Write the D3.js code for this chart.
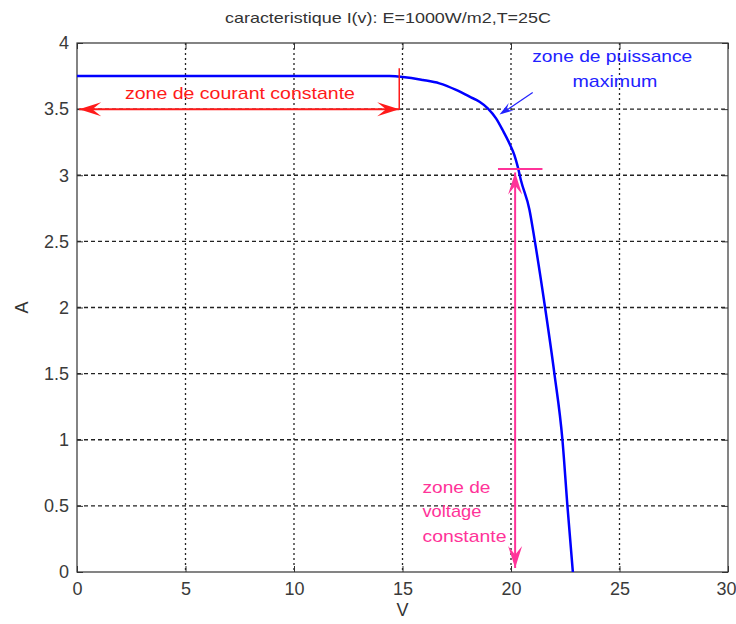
<!DOCTYPE html>
<html><head><meta charset="utf-8">
<script src="https://cdn.jsdelivr.net/npm/d3@7"></script>
<style>body{margin:0;background:#fff}svg{display:block}text{font-family:"Liberation Sans",Arial,sans-serif}</style>
</head><body>
<svg id="c" width="736" height="624"></svg>
<script>
const voltage = [0, 5, 10, 14.4, 15.94, 16.7, 17.47, 18.09, 18.55, 18.93, 19.31, 19.62, 19.93, 20.16, 20.31, 20.46, 20.85, 21.1, 21.57, 22.0, 22.37, 22.6, 22.85];
const current = [3.75, 3.75, 3.75, 3.75, 3.72, 3.695, 3.645, 3.594, 3.556, 3.506, 3.43, 3.34, 3.24, 3.15, 3.065, 2.96, 2.74, 2.5, 2.0, 1.5, 1.0, 0.5, 0.0];
const xTicks = [0, 5, 10, 15, 20, 25, 30];
const yTicks = [0, 0.5, 1, 1.5, 2, 2.5, 3, 3.5, 4];
const titleText = "caracteristique I(v): E=1000W/m2,T=25C";

const svg = d3.select("#c");
const L = 77, R = 728, T = 43, B = 572;
const x = d3.scaleLinear().domain([0, 30]).range([L, R]);
const y = d3.scaleLinear().domain([0, 4]).range([B, T]);

// grid
const g = svg.append("g");
g.selectAll(".gx").data(xTicks.slice(1, -1)).join("line")
  .attr("x1", d => x(d)).attr("x2", d => x(d)).attr("y1", T).attr("y2", B)
  .attr("stroke", "#222").attr("stroke-width", 1.3).attr("stroke-dasharray", "2,3");
g.selectAll(".gy").data(yTicks.slice(1, -1)).join("line")
  .attr("y1", d => y(d)).attr("y2", d => y(d)).attr("x1", L).attr("x2", R)
  .attr("stroke", "#222").attr("stroke-width", 1.3).attr("stroke-dasharray", "4,3");

// axes
const ax = d3.axisBottom(x).tickValues(xTicks).tickSize(-6).tickPadding(10).tickFormat(d3.format("d"));
const ay = d3.axisLeft(y).tickValues(yTicks).tickSize(-6).tickPadding(8).tickFormat(d => d);
const axT = d3.axisTop(x).tickValues(xTicks).tickSize(-6).tickFormat("");
const ayR = d3.axisRight(y).tickValues(yTicks).tickSize(-6).tickFormat("");
function style(sel){
  sel.select(".domain").remove();
  sel.selectAll("line").attr("stroke", "#333").attr("stroke-width", 1);
  sel.selectAll("text").attr("fill", "#3a3a3a").style("font-size", "18px");
}
const gxAxis = svg.append("g").attr("transform", `translate(0,${B})`).call(ax).call(style);
gxAxis.selectAll(".tick text").filter(d => d === 30).attr("dx", -2);
svg.append("g").attr("transform", `translate(${L},0)`).call(ay).call(style);
svg.append("g").attr("transform", `translate(0,${T})`).call(axT).call(style);
svg.append("g").attr("transform", `translate(${R},0)`).call(ayR).call(style);
svg.append("rect").attr("x", L).attr("y", T).attr("width", R - L).attr("height", B - T)
  .attr("fill", "none").attr("stroke", "#333").attr("stroke-width", 1.2);

// curve
const pts = voltage.map((v, i) => [v, current[i]]);
svg.append("path").datum(pts)
  .attr("d", d3.line().x(d => x(d[0])).y(d => y(d[1])).curve(d3.curveMonotoneX))
  .attr("fill", "none").attr("stroke", "#0000ff").attr("stroke-width", 2.5);

// arrowhead helper: tip at (tx,ty), pointing in direction from (fx,fy)
function head(tx, ty, fx, fy, color, len, wid) {
  const a = Math.atan2(ty - fy, tx - fx);
  const c = Math.cos(a), s = Math.sin(a);
  const bx = tx - c * len, by = ty - s * len;
  const mx = tx - c * len * 0.6, my = ty - s * len * 0.6;
  const p = [[tx, ty], [bx - s * wid, by + c * wid], [mx, my], [bx + s * wid, by - c * wid]];
  svg.append("path").attr("d", "M" + p.map(q => q.join(",")).join("L") + "Z").attr("fill", color);
}
function label(txt, px, py, color, anchor, width) {
  return svg.append("text").attr("x", px).attr("y", py).attr("text-anchor", anchor)
    .attr("fill", color).style("font-size", "17px")
    .attr("textLength", width).attr("lengthAdjust", "spacingAndGlyphs").text(txt);
}

// red: constant current zone
const red = "#ff1a1a";
svg.append("line").attr("x1", x(0.1)).attr("x2", x(14.85)).attr("y1", y(3.5)).attr("y2", y(3.5))
  .attr("stroke", red).attr("stroke-width", 2);
svg.append("line").attr("x1", x(14.85)).attr("x2", x(14.85)).attr("y1", y(3.81)).attr("y2", y(3.5))
  .attr("stroke", red).attr("stroke-width", 1.5);
head(x(0.1), y(3.5), x(5), y(3.5), red, 22, 7);
head(x(14.85), y(3.5), x(10), y(3.5), red, 22, 7);
label("zone de courant constante", x(2.21), y(3.575), red, "start", 230);

// blue: max power zone
const blue = "#2222ff";
svg.append("line").attr("x1", x(21.0)).attr("y1", y(3.625)).attr("x2", x(19.6)).attr("y2", y(3.47))
  .attr("stroke", blue).attr("stroke-width", 1.2);
head(x(19.47), y(3.46), x(21.0), y(3.625), blue, 14, 4.5);
label("zone de puissance", x(20.98), y(3.857), blue, "start", 160);
label("maximum", x(22.83), y(3.667), blue, "start", 85);

// pink: constant voltage zone
const pink = "#ff3399";
svg.append("line").attr("x1", x(19.4)).attr("x2", x(21.45)).attr("y1", y(3.047)).attr("y2", y(3.047))
  .attr("stroke", pink).attr("stroke-width", 2);
svg.append("line").attr("x1", x(20.19)).attr("x2", x(20.19)).attr("y1", y(3.02)).attr("y2", y(0.03))
  .attr("stroke", pink).attr("stroke-width", 2);
head(x(20.19), y(3.02), x(20.19), y(2), pink, 22, 7);
head(x(20.19), y(0.03), x(20.19), y(1), pink, 22, 7);
label("zone de", x(15.92), y(0.6), pink, "start", 68);
label("voltage", x(15.92), y(0.6) + 24, pink, "start", 59);
label("constante", x(15.92), y(0.6) + 49, pink, "start", 84);

// titles
svg.append("text").attr("x", 225).attr("y", 23).attr("fill", "#333").style("font-size", "15px")
  .attr("textLength", 326).attr("lengthAdjust", "spacingAndGlyphs").text(titleText);
svg.append("text").attr("x", x(15)).attr("y", 616).attr("text-anchor", "middle")
  .attr("fill", "#333").style("font-size", "18px").text("V");
svg.append("text").attr("transform", `translate(28,${y(2)}) rotate(-90)`).attr("text-anchor", "middle")
  .attr("fill", "#333").style("font-size", "18px").text("A");
</script>
</body></html>
